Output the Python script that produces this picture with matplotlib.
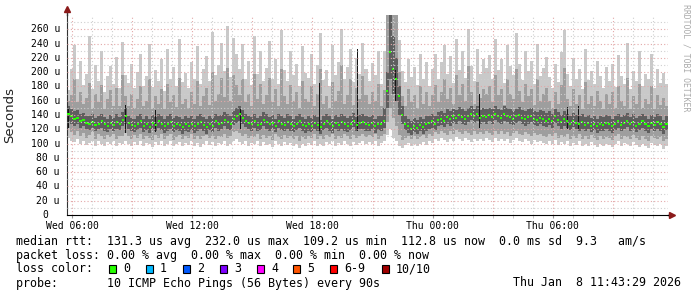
import numpy as np
import matplotlib.pyplot as plt
from matplotlib.patches import Rectangle

# smokeping style latency graph, 30 hours ending Thu 11:43
start_hour = 5.75      # Wed 05:45, hours since Wed 00:00
step_hour = 0.15       # one column of smoke = 9 minutes

# median rtt per column (microseconds)
med = [
    142, 138, 135, 136, 131, 133, 129, 127, 130, 126, 128, 131, 127, 124, 129, 126, 130, 127, 133, 138,
    129, 126, 124, 128, 131, 125, 127, 123, 129, 126, 131, 128, 124, 127, 130, 125, 128, 126, 123, 127,
    125, 128, 124, 127, 130, 126, 123, 128, 125, 131, 127, 129, 133, 130, 128, 135, 138, 141, 136, 132,
    129, 127, 131, 126, 128, 133, 130, 127, 129, 125, 131, 128, 126, 130, 127, 125, 128, 131, 126, 124,
    127, 125, 129, 126, 123, 128, 131, 127, 124, 129, 126, 130, 127, 125, 128, 132, 126, 129, 130, 127,
    126, 129, 124, 128, 127, 131, 173, 228, 205, 190, 166, 140, 128, 124, 121, 125, 122, 126, 123, 127,
    129, 131, 128, 133, 135, 132, 137, 134, 138, 136, 140, 137, 135, 139, 142, 138, 141, 136, 139, 137,
    140, 137, 142, 138, 136, 141, 139, 137, 135, 138, 140, 136, 134, 137, 139, 135, 133, 136, 134, 132,
    135, 131, 138, 133, 130, 134, 131, 128, 132, 129, 127, 130, 126, 129, 125, 128, 124, 127, 126, 129,
    127, 124, 128, 131, 126, 129, 132, 127, 130, 125, 128, 131, 127, 124, 129, 126, 130, 127, 123, 128,
]

# outer smoke (fastest / slowest ping)
lo = [
    108, 104, 102, 106, 100, 103, 98, 101, 104, 97, 103, 100, 96, 102, 99, 104, 97, 101, 99, 103,
    100, 96, 102, 98, 104, 97, 101, 99, 95, 102, 98, 103, 97, 100, 104, 96, 99, 102, 97, 101,
    98, 103, 97, 101, 95, 100, 104, 98, 102, 96, 101, 99, 103, 97, 100, 104, 106, 102, 99, 103,
    97, 101, 99, 104, 96, 102, 98, 100, 95, 103, 99, 97, 102, 98, 101, 96, 100, 94, 99, 97,
    101, 98, 103, 96, 100, 97, 102, 99, 104, 96, 101, 98, 103, 100, 97, 102, 98, 101, 104, 99,
    102, 99, 103, 97, 101, 104, 112, 120, 108, 104, 96, 94, 98, 101, 97, 100, 96, 99, 102, 98,
    104, 101, 106, 103, 108, 105, 102, 107, 104, 109, 106, 103, 108, 105, 102, 107, 104, 106, 103, 108,
    105, 102, 108, 104, 107, 103, 106, 101, 105, 108, 104, 102, 106, 103, 100, 105, 102, 104, 101, 99,
    103, 100, 105, 98, 102, 99, 104, 97, 101, 98, 103, 96, 100, 97, 102, 98, 95, 100, 97, 99,
    98, 95, 100, 103, 97, 101, 99, 96, 102, 98, 95, 100, 97, 94, 101, 98, 96, 99, 93, 97,
]
hi = [
    175, 205, 238, 190, 215, 182, 198, 250, 176, 210, 188, 230, 172, 195, 208, 184, 221, 178, 242, 196,
    185, 212, 178, 200, 226, 181, 194, 240, 179, 203, 188, 219, 174, 232, 191, 207, 180, 247, 186, 199,
    178, 214, 190, 236, 183, 205, 222, 187, 256, 196, 210, 241, 201, 264, 193, 248, 226, 205, 239, 190,
    215, 182, 251, 197, 230, 188, 206, 244, 191, 218, 183, 259, 203, 187, 229, 196, 212, 180, 237, 199,
    192, 226, 184, 210, 255, 189, 203, 181, 238, 196, 214, 261, 190, 207, 232, 186, 220, 198, 241, 205,
    188, 213, 196, 229, 184, 230, 280, 280, 280, 280, 245, 201, 186, 218, 193, 207, 182, 226, 190, 214,
    180, 205, 226, 191, 214, 238, 197, 222, 185, 246, 203, 230, 192, 260, 209, 187, 233, 198, 218, 206,
    224, 190, 247, 203, 218, 185, 238, 209, 196, 255, 212, 189, 230, 201, 216, 184, 239, 195, 206, 221,
    193, 178, 212, 186, 228, 259, 197, 181, 220, 190, 205, 176, 232, 189, 201, 183, 215, 194, 178, 207,
    188, 212, 179, 224, 195, 183, 241, 176, 201, 187, 229, 181, 198, 190, 226, 178, 204, 185, 199, 183,
]

# middle smoke
mid_lo = [
    122, 116, 112, 118, 110, 115, 108, 112, 116, 106, 113, 110, 107, 112, 109, 114, 106, 111, 110, 115,
    110, 106, 112, 108, 114, 107, 111, 108, 105, 112, 108, 113, 106, 110, 114, 105, 109, 112, 106, 111,
    108, 113, 107, 111, 106, 110, 112, 108, 111, 106, 111, 109, 114, 108, 110, 116, 118, 115, 110, 113,
    108, 111, 109, 114, 106, 112, 108, 111, 105, 113, 109, 107, 112, 108, 111, 106, 110, 104, 109, 107,
    111, 108, 113, 106, 110, 107, 112, 109, 113, 106, 111, 108, 113, 110, 107, 112, 108, 111, 114, 109,
    112, 109, 113, 107, 111, 114, 130, 150, 136, 125, 112, 105, 108, 111, 107, 110, 106, 109, 112, 108,
    114, 111, 116, 113, 118, 115, 112, 117, 114, 119, 116, 113, 118, 115, 112, 117, 114, 116, 113, 118,
    115, 112, 118, 114, 117, 113, 116, 111, 115, 118, 114, 112, 116, 113, 110, 115, 112, 114, 111, 109,
    113, 110, 115, 108, 112, 109, 114, 107, 111, 108, 113, 106, 110, 107, 112, 108, 105, 110, 107, 109,
    108, 105, 110, 113, 107, 111, 109, 106, 112, 108, 105, 110, 107, 104, 111, 108, 106, 109, 103, 107,
]
mid_hi = [
    160, 168, 190, 158, 172, 155, 164, 185, 150, 170, 158, 182, 149, 162, 175, 153, 178, 152, 196, 166,
    152, 170, 150, 163, 181, 152, 160, 190, 150, 166, 156, 176, 148, 184, 158, 168, 151, 192, 155, 162,
    150, 172, 156, 188, 152, 166, 178, 154, 200, 160, 170, 192, 165, 206, 160, 196, 182, 168, 190, 158,
    170, 152, 198, 162, 184, 156, 168, 192, 158, 176, 152, 204, 166, 155, 182, 160, 172, 150, 188, 162,
    158, 180, 152, 170, 205, 156, 166, 150, 186, 160, 174, 210, 156, 168, 190, 154, 178, 162, 194, 168,
    155, 172, 160, 184, 152, 175, 280, 280, 280, 280, 200, 166, 152, 176, 158, 168, 150, 180, 156, 172,
    152, 168, 182, 158, 172, 190, 162, 178, 155, 196, 168, 184, 160, 208, 172, 156, 186, 164, 176, 170,
    180, 158, 196, 168, 176, 154, 190, 170, 162, 204, 174, 158, 184, 166, 176, 154, 190, 160, 170, 178,
    160, 150, 172, 156, 182, 206, 162, 152, 176, 156, 168, 148, 186, 156, 166, 152, 174, 160, 148, 170,
    156, 172, 150, 180, 160, 152, 192, 148, 166, 156, 184, 150, 162, 156, 180, 148, 168, 154, 164, 152,
]

# inner (dark) smoke
dk_lo = [
    132, 128, 125, 127, 122, 125, 120, 119, 122, 117, 120, 122, 118, 116, 121, 118, 121, 119, 124, 128,
    120, 117, 116, 119, 122, 116, 119, 115, 120, 117, 122, 119, 115, 118, 121, 116, 119, 117, 114, 118,
    116, 119, 115, 118, 121, 117, 114, 119, 116, 122, 118, 120, 124, 121, 119, 126, 129, 131, 127, 123,
    120, 118, 122, 117, 119, 124, 121, 118, 120, 116, 122, 119, 117, 121, 118, 116, 119, 122, 117, 115,
    118, 116, 120, 117, 114, 119, 122, 118, 115, 120, 117, 121, 118, 116, 119, 123, 117, 120, 121, 118,
    117, 120, 115, 119, 118, 122, 150, 190, 170, 160, 140, 128, 119, 115, 112, 116, 113, 117, 114, 118,
    120, 122, 119, 124, 126, 123, 128, 125, 129, 127, 131, 128, 126, 130, 133, 129, 132, 127, 130, 128,
    131, 128, 133, 129, 127, 132, 130, 128, 126, 129, 131, 127, 125, 128, 130, 126, 124, 127, 125, 123,
    126, 122, 129, 124, 121, 125, 122, 119, 123, 120, 118, 121, 117, 120, 116, 119, 115, 118, 117, 120,
    118, 115, 119, 122, 117, 120, 123, 118, 121, 116, 119, 122, 118, 115, 120, 117, 121, 118, 114, 119,
]
dk_hi = [
    152, 148, 146, 147, 141, 143, 139, 138, 141, 136, 139, 141, 137, 135, 140, 136, 141, 137, 144, 150,
    139, 136, 135, 139, 142, 135, 138, 134, 140, 137, 142, 139, 134, 138, 141, 136, 139, 137, 134, 138,
    136, 139, 134, 138, 141, 137, 134, 139, 136, 142, 138, 140, 144, 141, 139, 146, 150, 153, 147, 142,
    139, 137, 142, 136, 138, 144, 141, 137, 140, 135, 142, 139, 136, 141, 138, 135, 138, 142, 137, 134,
    138, 136, 140, 137, 133, 139, 142, 138, 134, 140, 137, 141, 138, 136, 139, 143, 137, 140, 141, 138,
    137, 140, 134, 139, 138, 150, 200, 280, 250, 220, 180, 152, 139, 135, 132, 136, 133, 137, 134, 138,
    139, 142, 138, 144, 146, 143, 148, 145, 149, 147, 151, 148, 146, 150, 153, 149, 152, 147, 150, 148,
    150, 148, 153, 149, 147, 152, 150, 148, 145, 149, 151, 147, 145, 148, 150, 146, 144, 147, 145, 143,
    146, 141, 149, 144, 140, 145, 142, 139, 143, 140, 138, 141, 137, 140, 136, 139, 135, 138, 137, 140,
    138, 134, 139, 142, 137, 140, 143, 137, 141, 136, 139, 142, 138, 134, 140, 137, 141, 138, 133, 139,
]

# single dark columns sticking out of the smoke
spike_hours = [5.80, 8.65, 10.15, 14.40, 18.35, 20.25, 22.15, 26.35, 30.75, 31.30]
spike_lows = [122, 115, 116, 120, 118, 117, 160, 122, 120, 121]
spike_tops = [150, 154, 147, 148, 185, 233, 203, 170, 151, 152]

y_ticks = list(range(0, 261, 20))
x_tick_hours = [6, 12, 18, 24, 30]
x_tick_labels = ['Wed 06:00', 'Wed 12:00', 'Wed 18:00', 'Thu 00:00', 'Thu 06:00']

loss_labels = ['0', '1', '2', '3', '4', '5', '6-9', '10/10']
loss_colors = ['#26ff00', '#00b8ff', '#0059ff', '#7e00ff', '#ff00ff', '#ff5500', '#ff0000', '#a00000']

MONO = 'DejaVu Sans Mono'
W, H = 697, 297

fig = plt.figure(figsize=(W / 100, H / 100), dpi=100)
fig.patch.set_facecolor('white')
ax = fig.add_axes([67 / W, 82 / H, 601 / W, 200 / H])

t = start_hour + step_hour * np.arange(len(med))
med = np.array(med)
kw = dict(width=step_hour, align='edge', linewidth=0, antialiased=False)
ax.bar(t, np.array(hi) - np.array(lo), bottom=lo, color='#c9c9c9', **kw)
ax.bar(t, np.array(mid_hi) - np.array(mid_lo), bottom=mid_lo, color='#9e9e9e', **kw)
ax.bar(t, np.array(dk_hi) - np.array(dk_lo), bottom=dk_lo, color='#5e5e5e', **kw)
ax.bar(spike_hours, np.array(spike_tops) - np.array(spike_lows), bottom=spike_lows,
       width=0.05, color='#151515', linewidth=0)
# median as short green dashes
ax.bar(t + step_hour * 0.15, 2.8, bottom=med - 1.4, width=step_hour * 0.7,
       align='edge', color='#26ff00', linewidth=0, zorder=3)

ax.set_xlim(5.75, 35.75)
ax.set_ylim(0, 280)

# grid on top of the smoke, rrdtool style
for h in range(6, 36):
    major = h % 3 == 0
    ax.axvline(h, color='#e3a8a8' if major else '#cfcfcf', lw=0.8,
               ls=(0, (1, 2)), zorder=4)
for v in range(10, 280, 10):
    major = v % 20 == 0
    ax.axhline(v, color='#e3a8a8' if major else '#cfcfcf', lw=0.8,
               ls=(0, (1, 2)), zorder=4)

for s in ['top', 'right']:
    ax.spines[s].set_visible(False)
ax.spines['left'].set_color('#333333')
ax.spines['bottom'].set_color('#000000')
ax.plot([0, 0], [1, 1.03], transform=ax.transAxes, color='#333333', lw=1, clip_on=False)
ax.plot([1, 1.006], [0, 0], transform=ax.transAxes, color='#000000', lw=1, clip_on=False)
ax.plot([0], [1.03], marker='^', ms=4, color='#8b1a1a', transform=ax.transAxes, clip_on=False)
ax.plot([1.006], [0], marker='>', ms=4, color='#8b1a1a', transform=ax.transAxes, clip_on=False)

ax.set_xticks(x_tick_hours, x_tick_labels, fontsize=7, family=MONO)
ax.set_xticks(range(6, 36), minor=True)
ax.tick_params(axis='x', which='major', length=2, pad=2.5, color='#999999')
ax.tick_params(axis='x', which='minor', length=2, color='#bbbbbb')
ax.set_yticks([])

for v in y_ticks:
    if v == 0:
        ax.text(-19 / 601, v, '0', ha='right', va='center', fontsize=7, family=MONO,
                transform=ax.get_yaxis_transform())
    else:
        ax.text(-7 / 601, v, f'{v} u', ha='right', va='center', fontsize=7, family=MONO,
                transform=ax.get_yaxis_transform())

fig.text(10 / W, 1 - 115 / H, 'Seconds', rotation=90, ha='center', va='center',
         fontsize=9.5, family='DejaVu Sans', color='#222222')
fig.text(686 / W, 1 - 4 / H, 'RRDTOOL / TOBI OETIKER', rotation=270, ha='center', va='top',
         fontsize=5.9, family=MONO, color='#aaaaaa')

legend_rows = [
    'median rtt:  131.3 us avg  232.0 us max  109.2 us min  112.8 us now  0.0 ms sd  9.3   am/s',
    'packet loss: 0.00 % avg  0.00 % max  0.00 % min  0.00 % now',
    'loss color:',
    'probe:       10 ICMP Echo Pings (56 Bytes) every 90s',
]
for row, ypix in zip(legend_rows, [241.5, 255.5, 269, 283]):
    fig.text(16 / W, 1 - ypix / H, row, ha='left', va='center', fontsize=8.4, family=MONO)
fig.text(513 / W, 1 - 283 / H, 'Thu Jan  8 11:43:29 2026', ha='left', va='center',
         fontsize=8.4, family=MONO)

box_x = [109, 146, 183, 220, 257, 293, 330, 382]
for bx, lab, col in zip(box_x, loss_labels, loss_colors):
    fig.add_artist(Rectangle((bx / W, 1 - 273 / H), 7 / W, 8 / H, transform=fig.transFigure,
                             facecolor=col, edgecolor='black', lw=0.8))
    fig.text((bx + 14) / W, 1 - 269 / H, lab, ha='left', va='center', fontsize=8.4, family=MONO)

fig.savefig('out.png', dpi=100)
